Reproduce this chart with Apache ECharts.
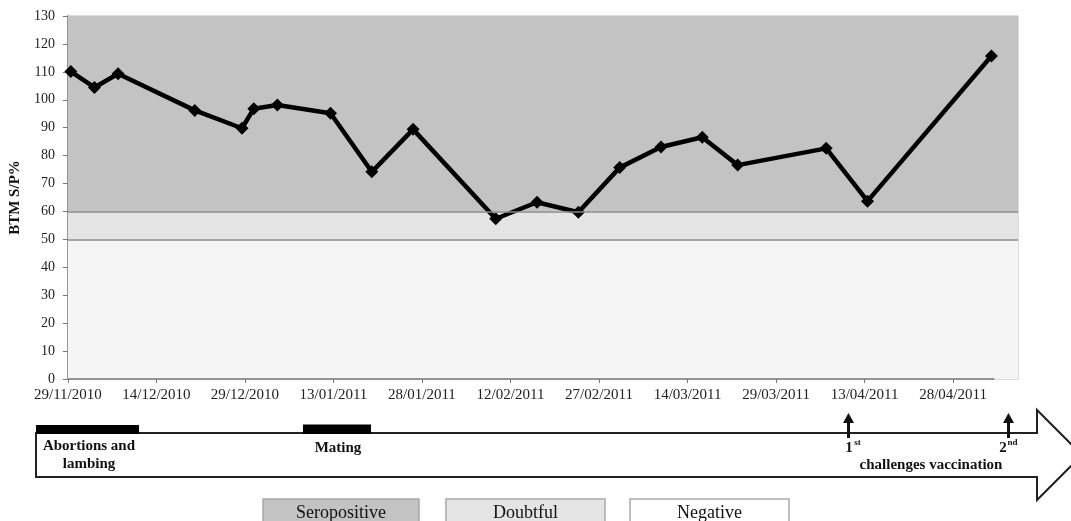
<!DOCTYPE html>
<html>
<head>
<meta charset="utf-8">
<title>BTM S/P%</title>
<script src="https://cdn.jsdelivr.net/npm/echarts@6/dist/echarts.min.js"></script>
<style>
  html, body { margin: 0; padding: 0; background: #fff; }
  #chart { width: 1071px; height: 521px; }
</style>
</head>
<body>
<div id="chart"></div>
<script>
// sampling dates and BTM S/P% values
const sampleDates = [
  "29/11/2010", "03/12/2010", "07/12/2010", "20/12/2010", "28/12/2010",
  "30/12/2010", "03/01/2011", "12/01/2011", "19/01/2011", "26/01/2011",
  "09/02/2011", "16/02/2011", "23/02/2011", "02/03/2011", "09/03/2011",
  "16/03/2011", "22/03/2011", "06/04/2011", "13/04/2011", "04/05/2011"
];
const spValues = [
  110.1, 104.4, 109.3, 96.2, 89.8,
  96.8, 98.1, 95.2, 74.2, 89.4,
  57.4, 63.3, 59.7, 75.7, 83.1,
  86.6, 76.6, 82.6, 63.7, 115.7
];
const tickLabels = [
  "29/11/2010", "14/12/2010", "29/12/2010", "13/01/2011", "28/01/2011",
  "12/02/2011", "27/02/2011", "14/03/2011", "29/03/2011", "13/04/2011", "28/04/2011"
];
const axisStart = "29/11/2010";
const axisEnd = "05/05/2011";
// status bands [from, to]
const bandLimits = [[60, 130], [50, 60], [0, 50]];
const bandNames = ["Seropositive", "Doubtful", "Negative"];
const bandColors = ["#c3c3c3", "#e4e4e4", "#f5f5f5"];

const SERIF = '"Liberation Serif", "Times New Roman", serif';

function dayOf(str) {
  const [d, m, y] = str.split("/").map(Number);
  const [d0, m0, y0] = axisStart.split("/").map(Number);
  return (Date.UTC(y, m - 1, d) - Date.UTC(y0, m0 - 1, d0)) / 86400000;
}

// excel date axis puts each point in the middle of its day
const points = sampleDates.map((s, i) => [dayOf(s) + 0.5, spValues[i]]);
const tickDays = tickLabels.map(dayOf);
const endDay = dayOf(axisEnd);

const chart = echarts.init(document.getElementById("chart"));

const boldText = (text, x, y, size) => ({
  type: "text",
  x, y,
  z: 10,
  style: {
    text, fill: "#111", font: `bold ${size || 15}px ${SERIF}`,
    align: "center", verticalAlign: "middle"
  }
});

function upArrow(x) {
  return [
    { type: "rect", shape: { x: x - 1.5, y: 420, width: 3, height: 18 }, style: { fill: "#111" } },
    { type: "polygon", shape: { points: [[x, 413], [x - 5.5, 423], [x + 5.5, 423]] }, style: { fill: "#111" } }
  ];
}

const legendBoxes = [
  { x: 263, w: 156, fill: bandColors[0] },
  { x: 446, w: 159, fill: bandColors[1] },
  { x: 630, w: 159, fill: "#ffffff" }
];

const graphics = [
  // timeline arrow
  {
    type: "polygon",
    shape: { points: [[36, 433], [1037, 433], [1037, 410], [1082, 455], [1037, 500], [1037, 477], [36, 477]] },
    style: { fill: "#fff", stroke: "#222", lineWidth: 2 }
  },
  { type: "rect", shape: { x: 36, y: 425, width: 103, height: 9 }, style: { fill: "#000" } },
  { type: "rect", shape: { x: 303, y: 424.5, width: 68, height: 9.5 }, style: { fill: "#000" } },
  boldText("Abortions and", 89, 446),
  boldText("lambing", 89, 464),
  boldText("Mating", 338, 448),
  ...upArrow(848.5),
  ...upArrow(1008.5),
  boldText("1", 849, 448),
  boldText("st", 857.5, 443, 9),
  boldText("2", 1003, 448),
  boldText("nd", 1012.5, 443, 9),
  boldText("challenges vaccination", 931, 465),
  // band key
  ...legendBoxes.flatMap((b, i) => [
    { type: "rect", shape: { x: b.x, y: 499, width: b.w, height: 40 }, style: { fill: b.fill, stroke: "#a9a9a9", lineWidth: 1.5 } },
    {
      type: "text", x: b.x + b.w / 2, y: 513,
      style: { text: bandNames[i], fill: "#111", font: `18px ${SERIF}`, align: "center", verticalAlign: "middle" }
    }
  ])
];

chart.setOption({
  animation: false,
  backgroundColor: "#fff",
  grid: {
    left: 66, right: 53, top: 16, bottom: 142,
    show: true, borderColor: "#b9b9b9", borderWidth: 1, backgroundColor: "transparent"
  },
  xAxis: {
    type: "value",
    min: 0,
    max: 161,
    axisLine: { show: false },
    splitLine: { show: false },
    axisTick: { show: true, length: 4, customValues: tickDays, lineStyle: { color: "#777" } },
    axisLabel: {
      customValues: tickDays,
      margin: 9,
      color: "#222",
      fontFamily: SERIF,
      fontSize: 15,
      formatter: (v) => tickLabels[tickDays.indexOf(v)] || ""
    }
  },
  yAxis: {
    type: "value",
    min: 0,
    max: 130,
    interval: 10,
    name: "BTM S/P%",
    nameLocation: "middle",
    nameGap: 41,
    nameTextStyle: { fontFamily: SERIF, fontWeight: "bold", fontSize: 15, color: "#111" },
    axisLine: { show: true, lineStyle: { color: "#777", width: 1.5 } },
    axisTick: { show: true, length: 5, lineStyle: { color: "#777" } },
    splitLine: { show: false },
    axisLabel: { margin: 13, color: "#222", fontFamily: SERIF, fontSize: 14 }
  },
  graphic: graphics,
  series: [
    {
      name: "bands",
      type: "line",
      data: [],
      silent: true,
      z: 1,
      markArea: {
        silent: true,
        data: bandLimits.map((lim, i) => [
          { yAxis: lim[0], itemStyle: { color: bandColors[i] } },
          { yAxis: lim[1] }
        ])
      },
      markLine: {
        silent: true,
        symbol: "none",
        label: { show: false },
        data: [
          { yAxis: 60, lineStyle: { color: "#8a8a8a", width: 1.5, type: "solid" } },
          { yAxis: 50, lineStyle: { color: "#8a8a8a", width: 1.5, type: "solid" } },
          [
            { coord: [0, 0], lineStyle: { color: "#777", width: 1.5, type: "solid" } },
            { coord: [endDay, 0] }
          ]
        ]
      }
    },
    {
      name: "BTM S/P%",
      type: "line",
      z: 3,
      data: points,
      symbol: "diamond",
      symbolSize: 13,
      itemStyle: { color: "#000" },
      lineStyle: { color: "#000", width: 4.5 }
    }
  ]
});
</script>
</body>
</html>
